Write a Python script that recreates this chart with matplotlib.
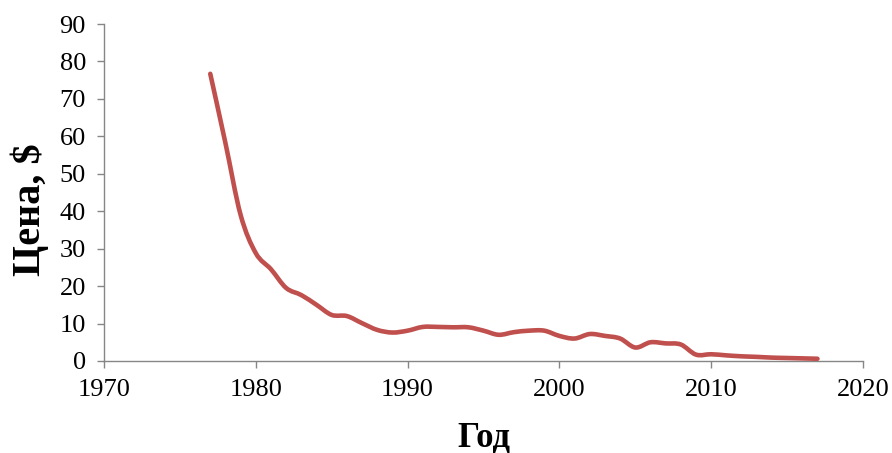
import numpy as np
import matplotlib
matplotlib.use("Agg")
import matplotlib.pyplot as plt
from matplotlib.path import Path
from matplotlib.patches import PathPatch

# Price per watt by year
years = list(range(1977, 2018))
prices = [76.7, 58.2, 39.0, 28.8, 24.5, 19.5, 17.6, 15.0, 12.3, 12.0,
          10.1, 8.3, 7.6, 8.1, 9.1, 9.1, 9.0, 9.0, 8.1, 7.0,
          7.7, 8.1, 8.1, 6.7, 6.0, 7.2, 6.7, 6.0, 3.6, 5.0,
          4.7, 4.4, 1.7, 1.8, 1.5, 1.25, 1.1, 0.9, 0.8, 0.7,
          0.6]

x_ticks = [1970, 1980, 1990, 2000, 2010, 2020]
y_ticks = [0, 10, 20, 30, 40, 50, 60, 70, 80, 90]

plt.rcParams['font.family'] = ['Liberation Serif', 'DejaVu Serif']

fig = plt.figure(figsize=(8.92, 4.53), dpi=100)
ax = fig.add_axes([0.1166, 0.2031, 0.8509, 0.7439])


def smooth_path(xs, ys):
    """Cubic Bezier path through the points (Catmull-Rom style control points)."""
    xs = np.asarray(xs, float)
    ys = np.asarray(ys, float)
    pts = np.column_stack([xs, ys])
    n = len(pts)
    verts = [pts[0]]
    codes = [Path.MOVETO]
    for i in range(n - 1):
        p0 = pts[max(i - 1, 0)]
        p1 = pts[i]
        p2 = pts[i + 1]
        p3 = pts[min(i + 2, n - 1)]
        c1 = p1 + (p2 - p0) / 6.0
        c2 = p2 - (p3 - p1) / 6.0
        verts += [c1, c2, p2]
        codes += [Path.CURVE4] * 3
    return Path(verts, codes)


patch = PathPatch(smooth_path(years, prices), facecolor='none',
                  edgecolor='#C0504D', linewidth=3.3, capstyle='round',
                  joinstyle='round', zorder=3)
ax.add_patch(patch)

ax.set_xlim(1970, 2020)
ax.set_ylim(0, 90)
ax.set_xticks(x_ticks)
ax.set_yticks(y_ticks)

for side in ('top', 'right'):
    ax.spines[side].set_visible(False)
for side in ('left', 'bottom'):
    ax.spines[side].set_color('#868686')
    ax.spines[side].set_linewidth(1.0)

ax.tick_params(axis='both', direction='out', length=5, width=1.0,
               color='#868686', labelsize=19, labelcolor='black')
ax.tick_params(axis='x', pad=8)
ax.tick_params(axis='y', pad=8)

ax.set_xlabel('Год', fontsize=25, fontweight='bold', va='center')
ax.xaxis.set_label_coords(0.501, -0.228)
ax.set_ylabel('Цена, $', fontsize=29, fontweight='bold', va='center')
ax.yaxis.set_label_coords(-0.098, 0.448)

fig.savefig('out.png', dpi=100, facecolor='white')
